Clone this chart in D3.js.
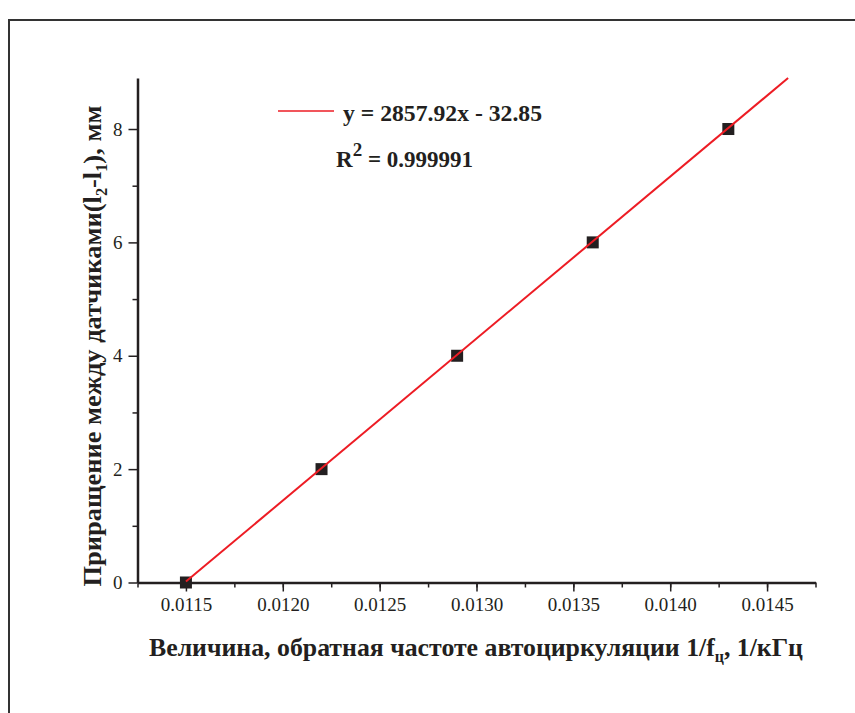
<!DOCTYPE html>
<html>
<head>
<meta charset="utf-8">
<script src="https://cdn.jsdelivr.net/npm/d3@7"></script>
<style>
  body { margin: 0; background: #fff; }
  svg { display: block; }
  .title { font-family: "Liberation Serif", "Times New Roman", serif; font-weight: bold; fill: #231f20; }
</style>
</head>
<body>
<svg width="855" height="713"></svg>
<script>
// measured points: 1/f (1/kHz) vs increment (mm)
var xVals = [0.0115, 0.0122, 0.0129, 0.0136, 0.0143];
var yVals = [0, 2, 4, 6, 8];
var xTicks = [0.0115, 0.0120, 0.0125, 0.0130, 0.0135, 0.0140, 0.0145];
var yTicks = [0, 2, 4, 6, 8];
var fitSlope = 2857.92, fitIntercept = -32.85;
var xDomain = [0.01125, 0.01475], yDomain = [0, 8.9];

var svg = d3.select("svg");

// outer frame (runs off the page right and bottom)
svg.append("path")
    .attr("d", "M9,880 L9,20 L900,20")
    .attr("fill", "none")
    .attr("stroke", "#333")
    .attr("stroke-width", 2);

var plotLeft = 137.5, plotRight = 815.5, plotTop = 78, plotBottom = 582.5;

var x = d3.scaleLinear().domain(xDomain).range([plotLeft, plotRight]);
var y = d3.scaleLinear().domain(yDomain).range([plotBottom, plotTop]);

function styleTicks(g) {
  g.selectAll("line").attr("stroke-width", 1.5).attr("stroke", "#231f20");
  g.selectAll("text")
      .attr("font-family", "'Liberation Serif', 'Times New Roman', serif")
      .attr("font-size", 19)
      .attr("fill", "#231f20");
}

// minor ticks
var xMinor = d3.range(0, 15).map(function(i) { return 0.01125 + i * 0.00025; });
var yMinor = [1, 3, 5, 7];

svg.append("g")
    .attr("transform", "translate(0," + plotBottom + ")")
    .call(d3.axisBottom(x).tickValues(xMinor).tickSize(5).tickFormat(""))
    .call(function(g) { g.select(".domain").remove(); styleTicks(g); });

svg.append("g")
    .attr("transform", "translate(" + plotLeft + ",0)")
    .call(d3.axisLeft(y).tickValues(yMinor).tickSize(5).tickFormat(""))
    .call(function(g) { g.select(".domain").remove(); styleTicks(g); });

// major axes
svg.append("g")
    .attr("transform", "translate(0," + plotBottom + ")")
    .call(d3.axisBottom(x).tickValues(xTicks).tickSize(9).tickSizeOuter(0).tickPadding(6).tickFormat(d3.format(".4f")))
    .call(function(g) {
      g.select(".domain").attr("stroke-width", 2.5).attr("stroke", "#231f20");
      styleTicks(g);
    });

svg.append("g")
    .attr("transform", "translate(" + plotLeft + ",0)")
    .call(d3.axisLeft(y).tickValues(yTicks).tickSize(9).tickSizeOuter(0).tickPadding(6).tickFormat(d3.format("d")))
    .call(function(g) {
      g.select(".domain").attr("stroke-width", 2.5).attr("stroke", "#231f20");
      styleTicks(g);
    });

// data markers
svg.append("g").selectAll("rect")
    .data(xVals)
  .enter().append("rect")
    .attr("x", function(d) { return x(d) - 6; })
    .attr("y", function(d, i) { return y(yVals[i]) - 6; })
    .attr("width", 12)
    .attr("height", 12)
    .attr("fill", "#231f20");

// linear fit
var xEnd = (yDomain[1] - fitIntercept) / fitSlope;
var fitLine = d3.line()
    .x(function(d) { return x(d); })
    .y(function(d) { return y(fitSlope * d + fitIntercept); });
svg.append("path")
    .datum([xVals[0], xEnd])
    .attr("d", fitLine)
    .attr("fill", "none")
    .attr("stroke", "#ed1c24")
    .attr("stroke-width", 2);

// legend
svg.append("line")
    .attr("x1", 278).attr("x2", 334)
    .attr("y1", 111).attr("y2", 111)
    .attr("stroke", "#ed1c24").attr("stroke-width", 1.5);
svg.append("text")
    .attr("class", "title")
    .attr("x", 343).attr("y", 121)
    .attr("font-size", 23)
    .attr("textLength", 199).attr("lengthAdjust", "spacingAndGlyphs")
    .text("y = 2857.92x - 32.85");
var r2 = svg.append("text")
    .attr("class", "title")
    .attr("x", 336).attr("y", 167)
    .attr("font-size", 23);
r2.append("tspan").text("R");
r2.append("tspan").attr("dy", -11).attr("font-size", 19).text("2");
r2.append("tspan").attr("dy", 11).text(" = 0.999991");

// axis titles
var xt = svg.append("text")
    .attr("class", "title")
    .attr("x", 476).attr("y", 656)
    .attr("text-anchor", "middle")
    .attr("font-size", 26)
    .attr("textLength", 654).attr("lengthAdjust", "spacingAndGlyphs");
xt.append("tspan").text("Величина, обратная частоте автоциркуляции 1/f");
xt.append("tspan").attr("dy", 6).attr("font-size", 16).text("ц");
xt.append("tspan").attr("dy", -6).text(", 1/кГц");

var yt = svg.append("text")
    .attr("class", "title")
    .attr("transform", "translate(101,346) rotate(-90)")
    .attr("text-anchor", "middle")
    .attr("font-size", 26)
    .attr("textLength", 481).attr("lengthAdjust", "spacingAndGlyphs");
yt.append("tspan").text("Приращение между датчиками(l");
yt.append("tspan").attr("dy", 6).attr("font-size", 16).text("2");
yt.append("tspan").attr("dy", -6).text("-l");
yt.append("tspan").attr("dy", 6).attr("font-size", 16).text("1");
yt.append("tspan").attr("dy", -6).text("), мм");
</script>
</body>
</html>
